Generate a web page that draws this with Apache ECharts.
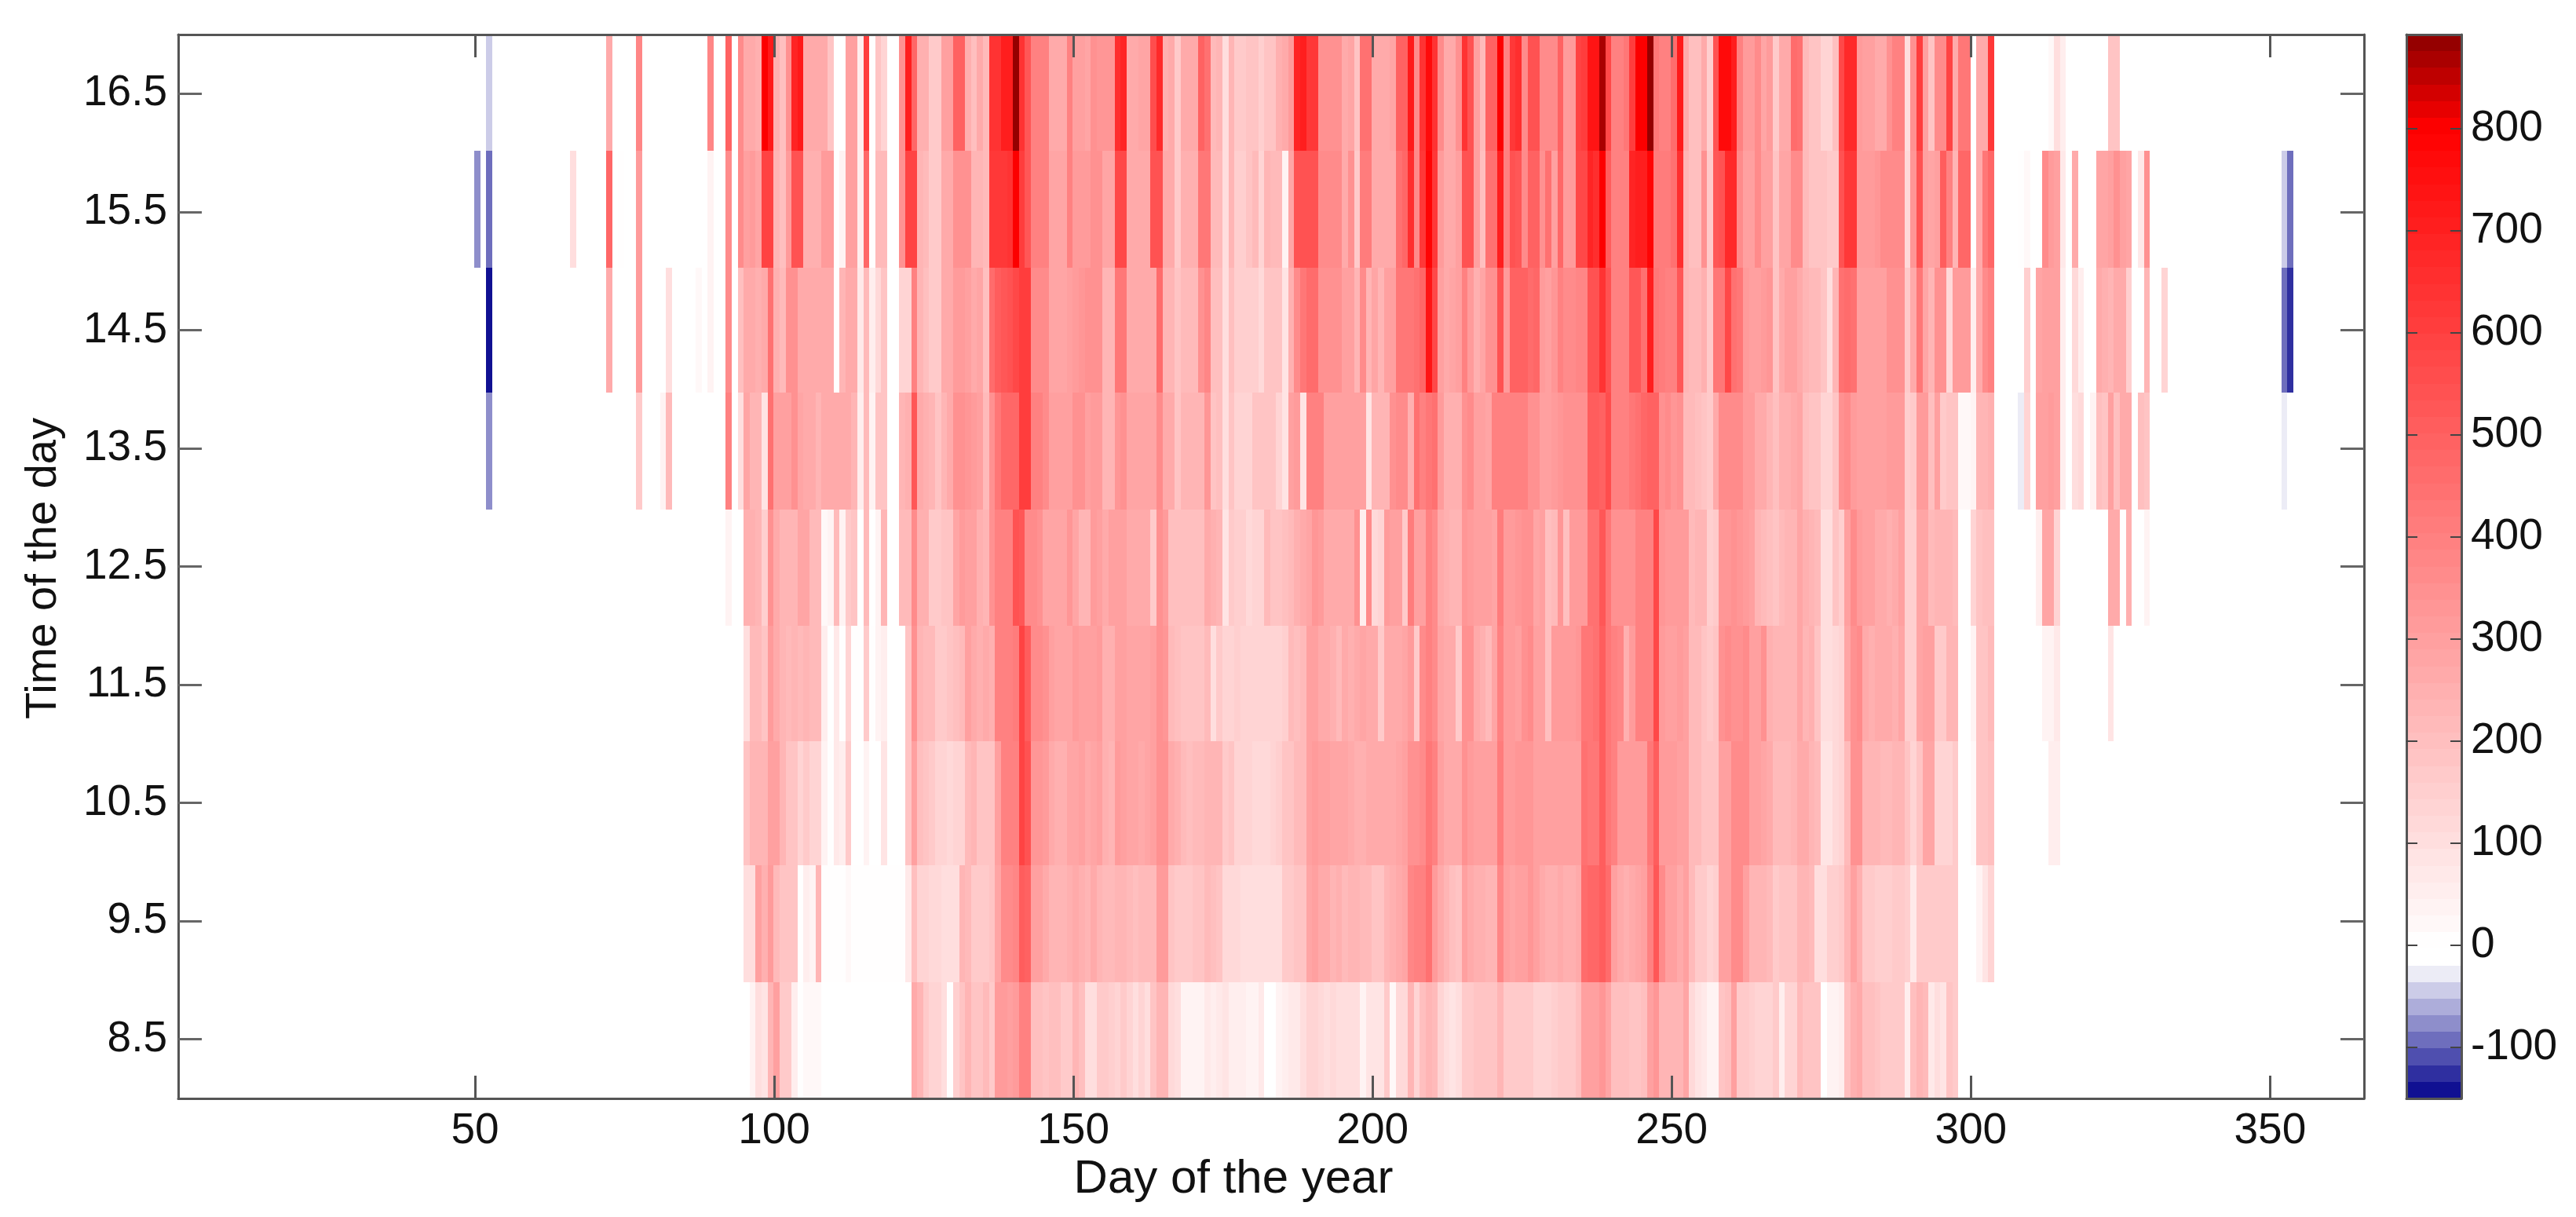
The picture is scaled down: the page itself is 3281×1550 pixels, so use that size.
<!DOCTYPE html>
<html>
<head>
<meta charset="utf-8">
<style>
  html, body { margin: 0; padding: 0; background: #fff; }
  #chart { width: 3281px; height: 1550px; }
</style>
<script src="https://cdn.jsdelivr.net/npm/echarts@6/dist/echarts.min.js"></script>
</head>
<body>
<div id="chart"></div>
<script>
// each row of the heatmap: runs of [first day, values from that day on]
const hour8 = [
  [96, [40,100,90,240,290,170,170,50,5,15,20,15]],
  [123, [260,240,170,140,130,110,10,150,190,230,190,180,220,170,320,310,300,310,400,400,200,200,190,200,200,170,170,240,200,110,110]],
  [154, [160,160,150,140,170,130,110,130,110,190,230,230,120,100,40,40,30,40,70,60,70,90,60,60,50,40,40,70,0,0,30,60,70,70,110,130,140,120,110,120,100,110,110,110,30,80,80,80,170,20,120,120,240,140,200,240,210,140,100,90,100,170,170,180,180,180,180,230,170,170,170,160,160,140,140,140,150,170,170,170,200,300,300,290,330,280,200,200,200,190,190,200]],
  [246, [290,330,240,240,230,230,280,120,90,70,40,40,190,200,290,170,160,150,140,140,140,170,60,130,130,210,190,190,190,0,30,40,50,200,250,270,200,200,180,170,170,170,170,60,200,240,220,70,100,80,190,170]]
]
const hour9 = [
  [95, [110,110,300,250,320,210,190,190,190,0,50,30,230,10,10,10,10,20,10,10,10,10,10,10,10,10,10,70,200,140,130,120,120,100,100,110,230,220,160,160,170,190,280,360,370,380,510,500,300,300,270,230,240,240,250,270,250,240,270]],
  [154, [240,210,210,230,230,210,200,210,210,210,320,320,180,170,160,170,190,190,210,200,190,120,120,120,110,110,110,110,110,110,110,160,170,180,190,280,300,270,260,230,250,220,240,230,220,210,190,180,230,250,260,280,380,390,390,440,320,260,230,200,190,300,270,250,250,240,240,380,290,280,290,300,330,300,260,250,250,260,250,250,270,460,470,480,510,460,300,260,250,260,280,300]],
  [246, [400,520,370,300,290,270,300,210,170,170,140,150,300,290,360,360,300,240,240,230,220,170,180,180,190,230,230,210,100,100,150,150,170,230,300,250,170,160,150,150,150,170,170,150,70,170,170,170,170,170,170,170]],
  [301, [40,90,140]]
]
const hour10 = [
  [95, [190,230,240,240,300,300,230,190,190,140,160,140,130,40,10,70,50,170,0,0,40,0,0,80,0,0,0,190,300,200,190,170,140,130,120,130,140,220,240,190,190,190,290,390,400,400,590,550,330,330,320,270,250,250,280,280,290,270,280]],
  [154, [290,250,240,310,290,280,280,270,280,290,350,350,260,250,210,200,210,210,230,230,230,170,180,130,130,130,120,120,120,130,150,190,190,210,220,300,310,300,290,280,280,280,260,250,250,260,270,260,260,260,280,300,350,350,370,430,390,300,270,270,270,340,320,290,290,290,290,410,320,320,330,330,330,300,300,300,300,300,300,300,300,440,430,420,510,430,400,310,310,310,320,320]],
  [246, [420,510,310,310,310,290,290,210,210,180,190,180,290,290,370,370,370,290,290,280,270,220,220,220,230,270,260,240,220,90,90,120,130,220,340,350,240,240,230,220,220,230,240,180,130,190,280,280,140,140,130,170]],
  [300, [20,190,190,200]],
  [313, [50,50]]
]
const hour11 = [
  [95, [100,210,220,190,320,260,240,220,240,220,230,220,220,50,0,70,10,140,10,10,170,10,30,60,0,0,0,190,340,230,220,210,170,160,190,200,210,300,260,250,260,250,390,400,400,410,590,510,360,360,340,290,280,280,280,320,290,290,290]],
  [154, [310,250,250,300,300,280,280,280,280,290,350,330,220,200,190,190,180,180,220,110,170,140,130,150,130,130,130,130,130,130,130,150,210,200,220,300,290,270,270,250,210,260,250,270,280,260,260,160,260,260,260,280,320,170,360,390,370,280,260,260,170,340,340,260,250,220,280,400,310,310,290,340,360,300,300,200,320,310,310,320,330,420,430,450,510,430,400,380,250,320,390,400]],
  [246, [400,570,310,300,290,320,300,220,220,180,170,180,340,360,340,350,360,300,300,340,250,240,240,240,240,280,230,250,190,110,110,120,140,280,340,360,260,250,260,260,260,250,280,150,150,280,300,300,160,160,230,240]],
  [300, [40,190,180,210]],
  [312, [40,40,70]],
  [323, [90]]
]
const hour12 = [
  [92, [40]],
  [95, [250,250,240,150,340,260,230,240,230,280,280,210,210,20,30,220,30,170,180,0,210,0,40,230,0,0,220,220,370,250,250,170,170,190,190,280,320,300,300,250,230,350,400,400,400,550,530,370,370,340,280,280,280,280,330,280,230,230,320]],
  [154, [300,260,290,290,290,270,270,270,270,160,350,320,200,200,200,200,200,200,270,250,230,80,160,150,150,120,130,130,210,190,190,200,220,250,270,280,330,320,270,270,270,260,270,340,50,370,120,130,310,300,300,160,410,300,290,390,360,260,250,240,240,330,320,290,290,290,280,410,320,310,330,340,350,280,290,200,220,330,200,310,320,320,450,450,520,430,350,350,350,350,400,400]],
  [246, [400,570,330,320,320,310,310,210,230,230,150,170,330,330,340,330,310,290,230,210,200,180,220,230,230,280,250,230,220,110,100,180,150,300,370,320,300,300,270,270,250,260,290,150,150,280,280,210,240,230,230,220]],
  [300, [140,190,200,200]],
  [311, [60,280,280,130]],
  [323, [270,270]],
  [326, [250]],
  [329, [40]]
]
const hour13 = [
  [52, [-70]],
  [77, [160]],
  [81, [30,220]],
  [92, [400,0,110,280,230,230,90,450,290,290,290,350,280,270,270,230,260,260,260,260,260,240,50,220,40,190,190,0,0,240,250,520,260,250,240,190,230,260,340,340,330,310,300,210,350,420,470,470,480,600,600,390,390,370,290,290,290,300,340,340,300,310]],
  [154, [320,230,230,330,340,280,280,280,280,280,360,260,260,190,230,230,240,230,330,190,200,110,180,140,140,140,190,190,190,190,140,80,300,310,90,400,400,390,290,290,290,290,290,290,290,80,230,240,230,340,360,360,250,450,400,420,450,310,250,250,250,340,360,290,290,280,400,400,400,400,400,390,350,350,300,300,320,330,340,340,340,350,510,510,500,560,390,400,400,420,440,470]],
  [246, [490,490,350,360,330,340,220,210,200,190,170,260,360,370,370,370,310,310,260,260,230,200,250,250,260,280,200,190,180,130,140,180,350,360,310,290,290,290,290,290,310,310,310,150,160,320,310,200,290,170,180,190,20,20,30,240,240,250]],
  [308, [-25,140]],
  [311, [300,300,320,290,50]],
  [317, [100,120]],
  [320, [40,200,190,300,200,270,260]],
  [328, [200,190]],
  [352, [-25]]
]
const hour14 = [
  [52, [-145]],
  [72, [270]],
  [77, [310]],
  [82, [110]],
  [87, [15]],
  [89, [40,0,0,360,0,200,260,270,250,260,450,250,220,340,340,270,270,270,270,270,270,0,240,260,260,70,220,60,120,180,0,0,130,140,400,230,200,160,160,270,270,320,320,300,260,280,200,460,510,530,540,580,600,600,360,360,360,280,280,280,300,320,330,350,350]],
  [154, [340,230,230,430,430,270,270,270,270,270,460,240,240,180,220,220,220,350,380,200,200,110,200,150,150,150,150,120,180,180,180,80,250,370,420,460,460,350,340,340,340,290,300,230,370,230,280,230,290,290,420,420,430,440,470,740,580,300,270,280,300,400,310,250,280,340,340,540,320,490,490,490,460,470,310,300,330,400,360,360,380,380,540,540,640,550,400,400,400,520,520,450]],
  [246, [700,420,410,400,400,520,240,220,220,250,170,430,430,580,440,430,310,300,300,310,330,190,260,290,290,260,240,220,220,190,100,240,450,460,450,300,300,300,300,300,340,340,340,160,270,430,280,230,340,340,120,320,320,310,60,260,370,400]],
  [309, [150]],
  [311, [280,290,300,300,50]],
  [317, [120,50]],
  [321, [260,250,240,270,270,150]],
  [329, [230]],
  [332, [130]],
  [352, [-94,-118]]
]
const hour15 = [
  [50, [-80]],
  [52, [-85]],
  [66, [100]],
  [72, [480]],
  [74, [10]],
  [77, [310]],
  [89, [40,0,0,370,0,370,300,310,280,590,590,230,200,320,550,550,250,250,250,310,310,0,40,300,300,50,470,10,220,220,0,0,340,590,590,230,220,170,170,270,270,350,350,340,240,240,220,620,620,620,640,800,600,520,400,400,400,280,280,280,390,320,320,320,350]],
  [154, [340,280,280,570,570,270,270,270,270,540,540,270,260,170,250,250,250,430,430,220,220,100,230,150,150,190,220,140,230,220,220,40,280,540,550,550,550,370,370,370,370,260,350,170,410,410,270,270,270,270,450,470,650,370,620,790,620,320,260,270,300,550,550,290,200,450,450,700,400,540,530,360,490,490,350,440,300,480,320,320,570,570,690,660,800,510,400,400,400,690,700,700]],
  [246, [790,410,410,410,440,650,230,200,200,340,170,520,540,680,680,370,300,300,360,290,300,190,280,280,360,360,220,190,190,180,170,170,540,630,620,310,320,320,330,370,370,370,370,120,330,540,300,280,300,510,400,240,470,470,0,260,430,480]],
  [308, [10,15]],
  [312, [360,310,300,70]],
  [317, [260]],
  [321, [280,280,290,340,290,280]],
  [328, [70,340]],
  [352, [-45,-85]]
]
const hour16 = [
  [52, [-48]],
  [72, [270]],
  [77, [380]],
  [89, [380,0,0,500,0,370,270,270,250,800,720,250,200,340,690,720,270,270,270,270,180,0,0,300,300,60,600,10,190,140,0,0,340,700,480,250,250,170,170,300,300,500,500,250,200,270,220,640,640,700,700,892,640,520,400,400,390,270,270,270,400,300,300,280,350]],
  [154, [330,330,330,660,690,270,270,280,280,560,680,250,260,160,260,270,260,500,440,210,230,100,230,160,160,190,180,150,190,190,250,270,310,690,700,620,620,350,350,350,340,260,280,180,450,450,270,270,270,280,500,490,720,360,640,770,640,360,260,260,350,640,550,300,210,500,490,800,400,620,660,360,540,540,370,370,370,490,310,320,590,600,740,740,860,570,400,400,420,600,800,800]],
  [246, [890,430,400,400,460,720,260,200,200,260,150,540,770,770,700,400,320,310,370,280,310,160,260,260,460,450,220,180,180,130,140,200,570,680,680,320,300,300,270,270,350,390,400,110,350,600,300,190,360,360,590,270,430,420,0,270,260,630]],
  [313, [20,100,60]],
  [323, [180,190]]
]

// rows listed bottom to top, with the hour edges (they are not quite even)
const hourRows = [hour8, hour9, hour10, hour11, hour12, hour13, hour14, hour15, hour16]
const rowEdges = [8, 8.98, 9.97, 11.02, 12, 12.98, 13.97, 15.03, 16.02, 17]

const dayTicks = [50, 100, 150, 200, 250, 300, 350]
const hourTicks = [8.5, 9.5, 10.5, 11.5, 12.5, 13.5, 14.5, 15.5, 16.5]
const barTicks = [-100, 0, 100, 200, 300, 400, 500, 600, 700, 800]
const valueMin = -150
const valueMax = 892
const levelCount = 64

// colormap: navy -> white below zero, white -> red -> dark red above
function levelColor (v) {
  let c
  if (v <= -18) {
    let t = (v + 18) / (valueMin + 18)
    c = [255 * (1 - t), 255 * (1 - t), 255 - 116 * t]
  } else if (v <= 4) {
    c = [255, 255, 255]
  } else if (v <= 800) {
    let t = v / 800
    c = [255, 255 * (1 - t), 255 * (1 - t)]
  } else {
    let t = (v - 800) / (valueMax - 800)
    c = [255 - 116 * t, 0, 0]
  }
  return 'rgb(' + c.map(Math.round).join(',') + ')'
}

let pieces = []
let barCells = []
let levelStep = (valueMax - valueMin) / levelCount
for (let i = 0; i < levelCount; i++) {
  let lo = valueMin + i * levelStep
  let hi = lo + levelStep
  let mid = (lo + hi) / 2
  pieces.push({ gte: lo, lt: i === levelCount - 1 ? valueMax + 1 : hi, color: levelColor(mid) })
  barCells.push([0, 1, lo, hi, mid])
}

let heatCells = []
hourRows.forEach((runs, r) => {
  runs.forEach(([first, values]) => {
    values.forEach((v, i) => {
      if (v !== 0) {
        let d = first + i - 0.1
        heatCells.push([d, d + 1, rowEdges[r], rowEdges[r + 1], v])
      }
    })
  })
})

function renderCell (params, api) {
  let a = api.coord([api.value(0), api.value(2)])
  let b = api.coord([api.value(1), api.value(3)])
  let x0 = Math.round(a[0])
  let x1 = Math.round(b[0])
  let y0 = Math.round(b[1])
  let y1 = Math.round(a[1])
  return {
    type: 'rect',
    shape: { x: x0, y: y0, width: x1 - x0, height: y1 - y0 },
    style: { fill: api.visual('color') }
  }
}

const textFont = { fontFamily: 'Liberation Sans', fontSize: 55, color: '#111' }
const frameLine = { show: true, onZero: false, lineStyle: { color: '#555', width: 3 } }
const dayMin = 0.4
const dayMax = 365.7

function dayAxis (position, showLabels) {
  return {
    type: 'value', gridIndex: 0, position, min: dayMin, max: dayMax, z: 10,
    axisLine: frameLine,
    axisTick: { show: true, inside: true, length: 29, customValues: dayTicks, lineStyle: { color: '#555', width: 3 } },
    axisLabel: { show: showLabels, customValues: dayTicks, margin: 14, ...textFont },
    splitLine: { show: false }
  }
}

function hourAxis (position, showLabels) {
  return {
    type: 'value', gridIndex: 0, position, min: 8, max: 17, z: 10,
    axisLine: frameLine,
    axisTick: { show: true, inside: true, length: 30, customValues: hourTicks, lineStyle: { color: '#666', width: 3 } },
    axisLabel: { show: showLabels, customValues: hourTicks, margin: 14, ...textFont },
    splitLine: { show: false }
  }
}

function barXAxis (position) {
  return {
    type: 'value', gridIndex: 1, position, min: 0, max: 1, z: 10,
    axisLine: frameLine, axisTick: { show: false }, axisLabel: { show: false }, splitLine: { show: false }
  }
}

function barYAxis (position, showLabels) {
  return {
    type: 'value', gridIndex: 1, position, min: valueMin, max: valueMax, z: 10,
    axisLine: frameLine,
    axisTick: { show: true, inside: true, length: 14, customValues: barTicks, lineStyle: { color: '#444', width: 2 } },
    axisLabel: { show: showLabels, customValues: barTicks, margin: 12, ...textFont },
    splitLine: { show: false }
  }
}

let myChart = echarts.init(document.getElementById('chart'), null, { renderer: 'canvas' })
myChart.setOption({
  backgroundColor: '#fff',
  animation: false,
  grid: [
    { left: 227, top: 44, width: 2784, height: 1355 },
    { left: 3065, top: 44, width: 70, height: 1355 }
  ],
  xAxis: [dayAxis('bottom', true), dayAxis('top', false), barXAxis('bottom'), barXAxis('top')],
  yAxis: [hourAxis('left', true), hourAxis('right', false), barYAxis('right', true), barYAxis('left', false)],
  visualMap: {
    type: 'piecewise', show: false, dimension: 4, seriesIndex: [0, 1], pieces
  },
  series: [
    {
      type: 'custom', xAxisIndex: 0, yAxisIndex: 0, renderItem: renderCell,
      encode: { x: [0, 1], y: [2, 3] }, data: heatCells, clip: true
    },
    {
      type: 'custom', xAxisIndex: 2, yAxisIndex: 2, renderItem: renderCell,
      encode: { x: [0, 1], y: [2, 3] }, data: barCells, clip: true
    }
  ],
  graphic: [
    {
      type: 'text', x: 1571, y: 1502,
      style: { text: 'Day of the year', font: '60px "Liberation Sans"', fill: '#111', align: 'center', verticalAlign: 'middle' }
    },
    {
      type: 'text', x: 56, y: 724, rotation: Math.PI / 2,
      style: { text: 'Time of the day', font: '56px "Liberation Sans"', fill: '#111', align: 'center', verticalAlign: 'middle' }
    }
  ]
})
</script>
</body>
</html>
